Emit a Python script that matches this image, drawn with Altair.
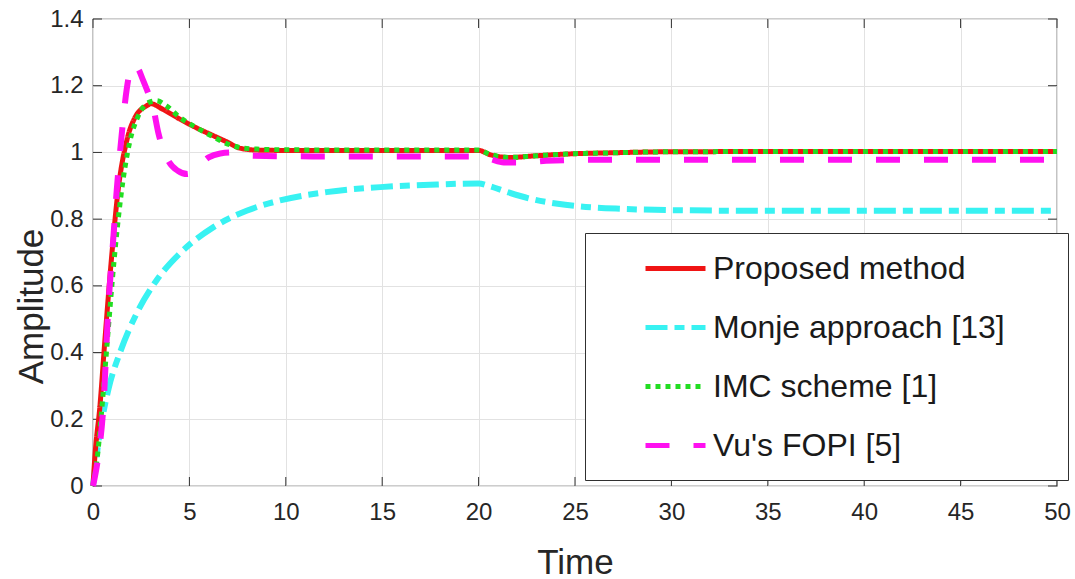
import altair as alt
import pandas as pd

# ---------------- data ----------------
SERIES = ["Proposed method", "Monje approach [13]", "IMC scheme [1]", "Vu's FOPI [5]"]

prop_t = [0, 0.1, 0.36, 0.62, 0.97, 1.31, 1.75, 2.18, 2.79, 3.0, 3.6, 4.5, 5.5, 6.25, 7.0, 7.6, 8.5,
          10, 15, 20, 20.6, 21.6, 23, 24.5, 27, 30, 40, 50]
prop_v = [0, 0.09, 0.24, 0.44, 0.69, 0.89, 1.035, 1.105, 1.14, 1.146, 1.13, 1.10, 1.07, 1.05, 1.03, 1.013, 1.007,
          1.006, 1.006, 1.006, 0.993, 0.985, 0.99, 0.995, 0.999, 1.002, 1.003, 1.003]

monje_t = [0, 0.28, 0.8, 1.4, 2.27, 3.3, 4.5, 6.25, 8.0, 9.7, 12.1, 14.9, 17.5, 20, 20.5, 21.5, 22.7,
           24.1, 25.3, 27.4, 30, 35, 40, 50]
monje_v = [0, 0.13, 0.29, 0.40, 0.518, 0.617, 0.697, 0.776, 0.826, 0.856, 0.881, 0.896, 0.903, 0.907, 0.90,
           0.881, 0.861, 0.846, 0.838, 0.831, 0.827, 0.825, 0.825, 0.825]

imc_t = [0, 0.25, 0.5, 0.75, 1.1, 1.45, 1.9, 2.35, 2.9, 3.3, 3.8, 4.5, 5.5, 6.3, 7.0, 7.6, 8.5,
         10, 15, 20, 20.6, 21.6, 23, 24.5, 27, 30, 40, 50]
imc_v = [0, 0.1, 0.26, 0.44, 0.68, 0.87, 1.03, 1.11, 1.15, 1.155, 1.14, 1.105, 1.07, 1.045, 1.025, 1.015, 1.01,
         1.008, 1.007, 1.007, 0.994, 0.985, 0.99, 0.995, 0.999, 1.002, 1.003, 1.003]

vu_t = [0, 0.25, 0.54, 0.8, 1.05, 1.23, 1.5, 1.75, 1.95, 2.15, 2.35, 2.6, 2.85, 3.1, 3.4, 3.9, 4.4, 4.9,
        5.4, 6.0, 6.6, 7.2, 8.3, 12, 16, 20, 20.6, 21.3, 22.3, 23.5, 26, 30, 40, 50]
vu_v = [0, 0.08, 0.24, 0.54, 0.74, 0.886, 1.06, 1.19, 1.25, 1.262, 1.25, 1.216, 1.18, 1.14, 1.056, 0.976,
        0.945, 0.935, 0.955, 0.985, 0.997, 1.0, 0.99, 0.988, 0.988, 0.988, 0.98, 0.97, 0.97, 0.975, 0.978,
        0.978, 0.978, 0.978]

X_TICKS = [0, 5, 10, 15, 20, 25, 30, 35, 40, 45, 50]
Y_TICKS = [0, 0.2, 0.4, 0.6, 0.8, 1.0, 1.2, 1.4]

# ---------------- styles ----------------
COLORS = ["#f01414", "#38f2f2", "#22dd22", "#ff10f0"]
DASHES = [[1, 0], [22, 7, 10, 7], [5, 5], [24, 24]]
WIDTHS = {"Proposed method": 5, "Monje approach [13]": 6, "IMC scheme [1]": 5, "Vu's FOPI [5]": 6}
FONT = "Liberation Sans, Arial, sans-serif"
W, H = 964, 467

xscale = alt.Scale(domain=[0, 50], nice=False, zero=False)
yscale = alt.Scale(domain=[0, 1.4], nice=False)

xaxis = alt.Axis(values=X_TICKS, title="Time", ticks=False, domain=False, labelPadding=14,
                 titleY=87, titleBaseline="alphabetic", labelFlush=False)
yaxis = alt.Axis(values=Y_TICKS, title="Amplitude", format=".1~f", ticks=False, domain=False,
                 labelPadding=10, titleX=-51, titleY=287, titleBaseline="alphabetic", titleAngle=270)

legend = alt.Legend(title=None, orient="none", legendX=492, legendY=214,
                    symbolType="M-2,0H2",
                    labelExpr="datum.label + '\u00a0\u00a0\u00a0\u00a0\u00a0\u200b'")


def line_layer(name, t, v):
    df = pd.DataFrame({"Time": t, "Amplitude": v, "series": name})
    return alt.Chart(df).mark_line(strokeWidth=WIDTHS[name], interpolate="monotone",
                                   strokeCap="butt").encode(
        x=alt.X("Time:Q", scale=xscale, axis=xaxis),
        y=alt.Y("Amplitude:Q", scale=yscale, axis=yaxis),
        color=alt.Color("series:N", scale=alt.Scale(domain=SERIES, range=COLORS), legend=legend),
        strokeDash=alt.StrokeDash("series:N", scale=alt.Scale(domain=SERIES, range=DASHES), legend=legend),
    )


xt = pd.DataFrame({"t": X_TICKS})
yt = pd.DataFrame({"a": Y_TICKS})
TICK = 9
tick_color = "#303030"
ticks_bottom = alt.Chart(xt).mark_rule(color=tick_color, strokeWidth=1).encode(
    x=alt.X("t:Q", scale=xscale), y=alt.value(H), y2=alt.value(H - TICK))
ticks_top = alt.Chart(xt).mark_rule(color=tick_color, strokeWidth=1).encode(
    x=alt.X("t:Q", scale=xscale), y=alt.value(0), y2=alt.value(TICK))
ticks_left = alt.Chart(yt).mark_rule(color=tick_color, strokeWidth=1).encode(
    y=alt.Y("a:Q", scale=yscale), x=alt.value(0), x2=alt.value(TICK))
ticks_right = alt.Chart(yt).mark_rule(color=tick_color, strokeWidth=1).encode(
    y=alt.Y("a:Q", scale=yscale), x=alt.value(W), x2=alt.value(W - TICK))

chart = alt.layer(
    ticks_bottom, ticks_top, ticks_left, ticks_right,
    line_layer("Monje approach [13]", monje_t, monje_v),
    line_layer("Proposed method", prop_t, prop_v),
    line_layer("IMC scheme [1]", imc_t, imc_v),
    line_layer("Vu's FOPI [5]", vu_t, vu_v),
).properties(
    width=W, height=H, autosize="none",
    padding={"left": 93, "top": 19, "right": 18, "bottom": 93},
    background="white",
).configure_view(
    stroke="#3a3a3a", strokeWidth=1.2
).configure_axis(
    labelFont=FONT, labelFontSize=24, labelColor="#262626",
    titleFont=FONT, titleFontSize=35, titleFontWeight="normal", titleColor="#262626",
    gridColor="#e2e2e2", gridWidth=1,
).configure_legend(
    strokeColor="#303030", fillColor="white", padding=18, cornerRadius=0,
    symbolSize=900, symbolStrokeWidth=5, symbolOffset=55,
    labelFont=FONT, labelFontSize=32, labelColor="#1a1a1a", labelOffset=20, labelLimit=0,
    rowPadding=25,
)

chart.save("out.html", embed_options={"renderer": "svg", "actions": False})
